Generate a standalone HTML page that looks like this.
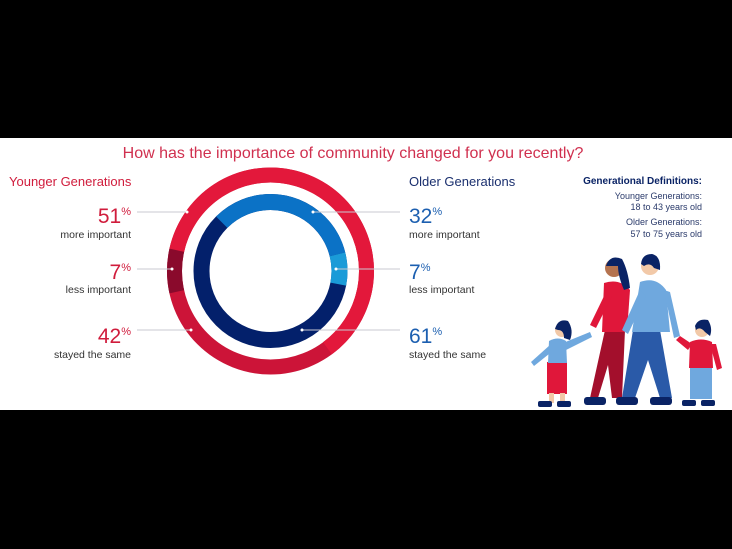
<!DOCTYPE html>
<html><head><meta charset="utf-8"><style>
html,body{margin:0;padding:0;background:#000;}
svg{display:block;}
text{font-family:"Liberation Sans",sans-serif;}
</style></head><body>
<svg width="732" height="549" viewBox="0 0 732 549" xmlns="http://www.w3.org/2000/svg">
<rect width="732" height="549" fill="#000"/>
<rect x="0" y="138" width="732" height="272" fill="#fff"/>
<text x="353" y="158" text-anchor="middle" font-size="16" fill="#d0304f">How has the importance of community changed for you recently?</text>
<text x="9" y="186" font-size="13" fill="#d01c3c">Younger Generations</text>
<text x="409" y="186" font-size="13" fill="#1a2f6e">Older Generations</text>
<text x="702" y="184" text-anchor="end" font-size="10" font-weight="bold" fill="#0a2365">Generational Definitions:</text>
<g font-size="9" fill="#2a3a6a" text-anchor="end">
<text x="702" y="199">Younger Generations:</text>
<text x="702" y="210">18 to 43 years old</text>
<text x="702" y="225">Older Generations:</text>
<text x="702" y="237">57 to 75 years old</text>
</g>
<g transform="translate(270.5,271) rotate(-90)" fill="none">
<circle r="96" stroke="#cc1438" stroke-width="15"/>
<circle r="96" stroke="#e3183b" stroke-width="15" stroke-dasharray="370.3 1000" transform="rotate(282.5)"/>
<circle r="96" stroke="#8a0a2c" stroke-width="15" stroke-dasharray="41.9 1000" transform="rotate(257.5)"/>
<circle r="69" stroke="#03206b" stroke-width="16"/>
<circle r="69" stroke="#0b72c6" stroke-width="16" stroke-dasharray="145.7 1000" transform="rotate(315)"/>
<circle r="69" stroke="#1a9bd8" stroke-width="16" stroke-dasharray="30.1 1000" transform="rotate(76)"/>
</g>
<g stroke="#c8c8d0" stroke-width="1">
<line x1="137" y1="212" x2="187" y2="212"/>
<line x1="137" y1="269" x2="172" y2="269"/>
<line x1="137" y1="330" x2="191" y2="330"/>
<line x1="313" y1="212" x2="400" y2="212"/>
<line x1="336" y1="269" x2="400" y2="269"/>
<line x1="302" y1="330" x2="400" y2="330"/>
</g>
<g fill="#fff">
<circle cx="187" cy="212" r="1.5"/><circle cx="172" cy="269" r="1.5"/><circle cx="191" cy="330" r="1.5"/>
<circle cx="313" cy="212" r="1.5"/><circle cx="336" cy="269" r="1.5"/><circle cx="302" cy="330" r="1.5"/>
</g>
<g fill="#d01c3c" text-anchor="end">
<text x="131" y="223" font-size="21">51<tspan font-size="11" dy="-8">%</tspan></text>
<text x="131" y="279" font-size="21">7<tspan font-size="11" dy="-8">%</tspan></text>
<text x="131" y="343" font-size="21">42<tspan font-size="11" dy="-8">%</tspan></text>
</g>
<g fill="#333" font-size="10.5" text-anchor="end">
<text x="131" y="238">more important</text>
<text x="131" y="293">less important</text>
<text x="131" y="358">stayed the same</text>
</g>
<g fill="#1c5fb0">
<text x="409" y="223" font-size="21">32<tspan font-size="11" dy="-8">%</tspan></text>
<text x="409" y="279" font-size="21">7<tspan font-size="11" dy="-8">%</tspan></text>
<text x="409" y="343" font-size="21">61<tspan font-size="11" dy="-8">%</tspan></text>
</g>
<g fill="#333" font-size="10.5">
<text x="409" y="238">more important</text>
<text x="409" y="293">less important</text>
<text x="409" y="358">stayed the same</text>
</g>
<polygon points="605,330 625,330 622,398 612,398 608,365 598,398 590,398" fill="#a30f2c"/>
<path d="M604,283 Q620,278 630,290 L627,332 L602,332 Z" fill="#e0173a"/>
<polygon points="606,292 612,296 596,328 590,325" fill="#e0173a"/>
<circle cx="614" cy="268" r="9" fill="#b5734f"/>
<path d="M606,266 Q610,254 622,259 Q628,270 630,288 L624,290 Q618,276 618,266 Z" fill="#0a2365"/>
<rect x="584" y="397" width="22" height="8" rx="3" fill="#0a2365"/>
<polygon points="633,330 660,330 672,398 660,398 648,360 635,398 622,398" fill="#2a5aa8"/>
<path d="M640,282 Q656,276 666,290 L670,332 L632,332 Z" fill="#6fa8de"/>
<polygon points="640,290 646,296 628,334 622,330" fill="#6fa8de"/>
<polygon points="664,290 670,292 680,336 674,338" fill="#6fa8de"/>
<circle cx="650" cy="266" r="9" fill="#f2c9a8"/>
<path d="M641,264 Q642,254 652,254 Q661,256 660,270 L654,268 Q650,262 644,266 Z" fill="#0a2365"/>
<rect x="616" y="397" width="22" height="8" rx="3" fill="#0a2365"/>
<rect x="650" y="397" width="22" height="8" rx="3" fill="#0a2365"/>
<rect x="547" y="362" width="20" height="32" fill="#e0173a"/>
<path d="M549,341 Q558,336 566,341 L567,363 L548,363 Z" fill="#6fa8de"/>
<polygon points="563,343 590,332 592,337 566,350" fill="#6fa8de"/>
<polygon points="550,345 554,350 534,366 531,362" fill="#6fa8de"/>
<rect x="549" y="393" width="5" height="10" fill="#f2c9a8"/><rect x="560" y="393" width="5" height="10" fill="#f2c9a8"/>
<circle cx="562" cy="330" r="7" fill="#f2c9a8"/>
<path d="M555,329 Q558,318 568,321 Q574,330 570,340 L564,338 Q564,330 558,330 Z" fill="#0a2365"/>
<rect x="538" y="401" width="14" height="6" rx="2" fill="#0a2365"/><rect x="557" y="401" width="14" height="6" rx="2" fill="#0a2365"/>
<rect x="690" y="366" width="22" height="33" fill="#6fa8de"/>
<path d="M690,342 Q701,337 712,342 L713,368 L689,368 Z" fill="#e0173a"/>
<polygon points="692,344 688,350 676,340 680,336" fill="#e0173a"/>
<polygon points="710,344 716,344 722,368 717,370" fill="#e0173a"/>
<circle cx="702" cy="330" r="7" fill="#f2c9a8"/>
<path d="M695,326 Q698,318 708,320 Q713,328 710,336 L705,332 Q700,326 696,330 Z" fill="#0a2365"/>
<rect x="682" y="400" width="14" height="6" rx="2" fill="#0a2365"/><rect x="701" y="400" width="14" height="6" rx="2" fill="#0a2365"/>
</svg>
</body></html>
